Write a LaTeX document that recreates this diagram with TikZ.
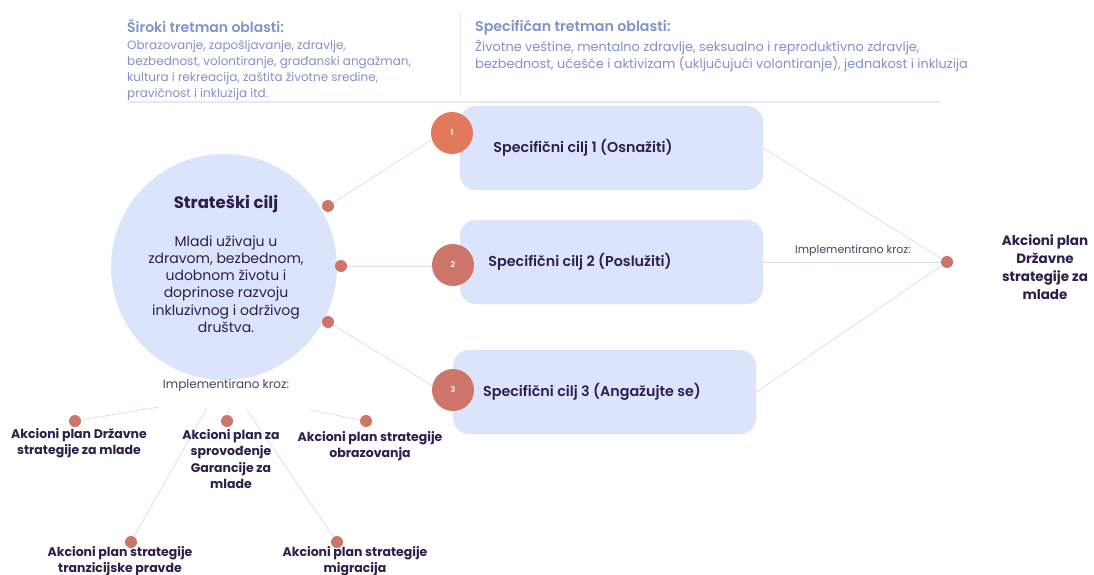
\documentclass[tikz,border=0pt]{standalone}
\usepackage{fontspec}
\setmainfont{Poppins}
\newfontfamily\semib{Poppins SemiBold}
\usetikzlibrary{calc}
\definecolor{headcol}{RGB}{128,145,205}
\definecolor{rulecol}{RGB}{228,234,252}
\definecolor{fillcol}{RGB}{220,228,252}
\definecolor{dotcol}{RGB}{205,117,105}
\definecolor{onecol}{RGB}{226,121,92}
\definecolor{textcol}{RGB}{45,30,75}
\definecolor{linecol}{RGB}{214,222,250}
\begin{document}
\begin{tikzpicture}[x=1pt,y=-1pt,
  dot/.style={circle,fill=dotcol,inner sep=0pt,minimum size=12pt},
  num/.style={circle,fill=dotcol,text=white,inner sep=0pt,minimum size=42pt,font=\fontsize{8}{8}\selectfont\semib},
  goal/.style={rounded corners=16pt,fill=fillcol,minimum width=303pt,minimum height=84pt},
  gtext/.style={text=textcol,font=\fontsize{14.3}{16}\selectfont\semib},
  link/.style={draw=linecol,line width=0.8pt},
  plan/.style={align=center,text=textcol,font=\fontsize{12.5}{16.5}\selectfont\bfseries},
  head/.style={anchor=north west,align=left,inner sep=0pt,text=headcol}]
\useasboundingbox (0,0) rectangle (1094,575);

\node [head,font=\fontsize{14}{16}\selectfont\semib] at (127,19) (ht1) {Široki tretman oblasti:};
\node [head,font=\fontsize{12}{16}\selectfont] at (127,40) (hb1) {Obrazovanje, zapošljavanje, zdravlje,\\bezbednost, volontiranje, građanski angažman,\\kultura i rekreacija, zaštita životne sredine,\\pravičnost i inkluzija itd.};
\node [head,font=\fontsize{14.2}{16}\selectfont\semib] at (475,20) (ht2) {Specifičan tretman oblasti:};
\node [head,font=\fontsize{12.9}{16.5}\selectfont] at (475,40) (hb2) {Životne veštine, mentalno zdravlje, seksualno i reproduktivno zdravlje,\\bezbednost, učešće i aktivizam (uključujući volontiranje), jednakost i inkluzija};

\coordinate (vt) at (460,12);
\coordinate (vb) at (460,97);
\coordinate (hl) at (127,102);
\coordinate (hr) at (940,102);
\draw [rulecol,line width=0.8pt] (vt) -- (vb);
\draw [rulecol,line width=1.2pt] (hl) -- (hr);

\node [circle,fill=fillcol,minimum size=226pt,inner sep=0pt] at (224,267) (sc) {};
\node [text=textcol,font=\fontsize{16.5}{18}\selectfont\bfseries] at (226,204) (sct) {Strateški cilj};
\node [align=center,text=textcol,font=\fontsize{14}{17.2}\selectfont] at (226,284) (scb) {Mladi uživaju u\\zdravom, bezbednom,\\udobnom životu i\\doprinose razvoju\\inkluzivnog i održivog\\društva.};

\node [goal] at (611.5,148) (g1) {};
\node [goal] at (611.5,262) (g2) {};
\node [goal] at (604.5,392) (g3) {};
\node [gtext] at (583,148) (t1) {Specifični cilj 1 (Osnažiti)};
\node [gtext] at (580,262) (t2) {Specifični cilj 2 (Poslužiti)};
\node [gtext] at (592,392) (t3) {Specifični cilj 3 (Angažujte se)};

\node [dot] at (328,206) (d1) {};
\node [dot] at (341,266) (d2) {};
\node [dot] at (328,322) (d3) {};

\draw [link] (d1) -- (433,139) coordinate (e1);
\draw [link] (d2) -- (433,266) coordinate (e2);
\draw [link] (d3) -- (433,386) coordinate (e3);

\node [num,fill=onecol] at (452,133) (n1) {1};
\node [num] at (453,265) (n2) {2};
\node [num] at (453,390) (n3) {3};

\node [dot] at (947,262) (dr) {};
\draw [link] (g1.east) -- (dr);
\draw [link] (g2.east) -- (dr);
\draw [link] (g3.east) -- (dr);
\node [text=textcol!85,font=\fontsize{11}{13}\selectfont] at (853,251) (ir) {Implementirano kroz:};
\node [plan,font=\fontsize{13.5}{18}\selectfont\bfseries] at (1045,267) (ar) {Akcioni plan\\Državne\\strategije za\\mlade};

\node [text=textcol!85,font=\fontsize{12}{14}\selectfont] at (226,385) (il) {Implementirano kroz:};
\coordinate (s1) at (159,407);
\coordinate (s2) at (207,408);
\coordinate (s3) at (229,409);
\coordinate (s4) at (247,410);
\coordinate (s5) at (310,410);

\node [dot] at (75,421) (p1) {};
\node [dot] at (227,421) (p2) {};
\node [dot] at (366,421) (p3) {};
\node [dot] at (131,542) (p4) {};
\node [dot] at (337,542) (p5) {};

\draw [link] (s1) -- (p1);
\draw [link] (s2) -- (p4);
\draw [link] (s3) -- (p2);
\draw [link] (s4) -- (p5);
\draw [link] (s5) -- (p3);

\node [plan] at (79,443) (a1) {Akcioni plan Državne\\strategije za mlade};
\node [plan] at (231,459) (a2) {Akcioni plan za\\sprovođenje\\Garancije za\\mlade};
\node [plan] at (370,446) (a3) {Akcioni plan strategije\\obrazovanja};
\node [plan] at (120,561) (a4) {Akcioni plan strategije\\tranzicijske pravde};
\node [plan] at (355,561) (a5) {Akcioni plan strategije\\migracija};
\end{tikzpicture}
\end{document}
